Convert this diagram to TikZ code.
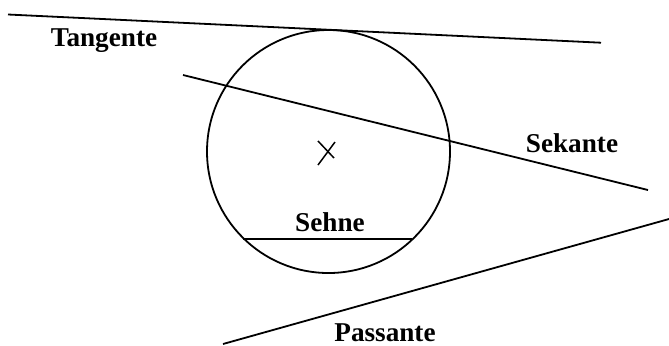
\documentclass[tikz,border=0pt]{standalone}
\usepackage{fontspec}
\setmainfont{Liberation Serif}
\usetikzlibrary{calc}

\begin{document}
\begin{tikzpicture}[
    x=0.5pt, y=-0.5pt,
    geo/.style={line width=0.9pt, black},
    lbl/.style={font=\fontsize{13.6}{16}\selectfont\bfseries, inner sep=0pt},
]
\useasboundingbox (0,0) rectangle (669,345);

% ===== Kreis mit Mittelpunkt =====
\coordinate (m) at (328.5,151.5);
\draw[geo] (m) circle[radius=121.5];
\draw[geo, line width=0.75pt] (318,141) -- (334,158);
\draw[geo, line width=0.75pt] (335,142) -- (318,165);

% ===== Geraden =====
\draw[geo] (8,14.5)  -- (601,42.7);   % Tangente
\draw[geo] (183,75)  -- (648,190);    % Sekante
\draw[geo] (223,344) -- (669,219);    % Passante
\draw[geo] (243,239) -- (412,239);    % Sehne

% ===== Beschriftungen =====
\node[lbl] (tangente) at (104,41)  {Tangente};
\node[lbl] (sekante)  at (572,143) {Sekante};
\node[lbl] (sehne)    at (330,222) {Sehne};
\node[lbl] (passante) at (385,333) {Passante};
\end{tikzpicture}
\end{document}
